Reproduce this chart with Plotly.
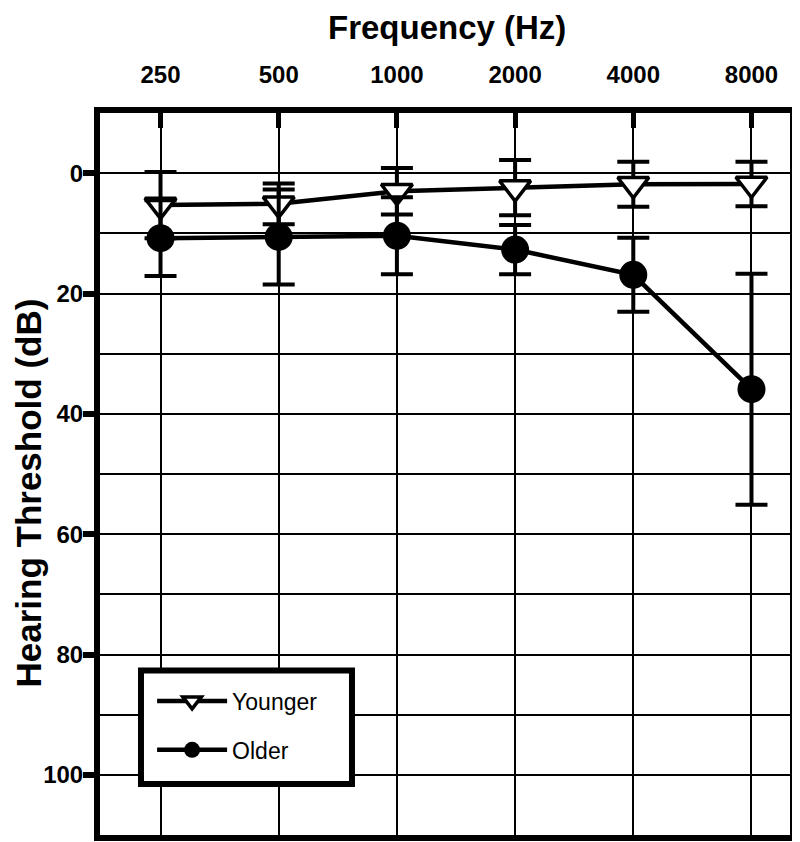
import plotly.graph_objects as go

freqs = [250, 500, 1000, 2000, 4000, 8000]
freq_labels = ["250", "500", "1000", "2000", "4000", "8000"]
younger_mean = [5.3, 5.1, 3.0, 2.4, 1.85, 1.8]
younger_sd = [5.5, 3.4, 3.85, 4.6, 3.75, 3.7]
older_mean = [10.8, 10.6, 10.4, 12.7, 16.9, 35.9]
older_sd = [6.3, 7.9, 6.4, 4.1, 6.15, 19.2]
y_tick_vals = [0, 20, 40, 60, 80, 100]
y_tick_text = ["0", "20", "40", "60", "80", "100"]

FONT = "Liberation Sans, Arial, Helvetica, sans-serif"

fig = go.Figure()

fig.add_trace(go.Scatter(
    x=freqs, y=younger_mean, name="Younger", mode="lines+markers",
    line=dict(color="black", width=4.5),
    marker=dict(symbol="triangle-down", size=27, color="white",
                line=dict(color="black", width=3.5)),
    error_y=dict(type="data", array=younger_sd, visible=True,
                 color="black", thickness=4, width=16),
    legendgroup="y",
))
fig.add_trace(go.Scatter(
    x=freqs, y=older_mean, name="Older", mode="lines+markers",
    line=dict(color="black", width=4.5),
    marker=dict(symbol="circle", size=28, color="black",
                line=dict(color="black", width=0)),
    error_y=dict(type="data", array=older_sd, visible=True,
                 color="black", thickness=4, width=16),
    legendgroup="o",
))

fig.update_layout(
    width=800, height=842,
    margin=dict(l=92, r=18, t=105, b=15, autoexpand=False),
    paper_bgcolor="white", plot_bgcolor="white",
    font=dict(family=FONT, color="black"),
    showlegend=True,
    legend=dict(
        x=0.0755, y=0.088, xanchor="left", yanchor="bottom",
        bgcolor="rgba(0,0,0,0)", borderwidth=0,
        font=dict(family=FONT, size=23, color="black"),
        itemwidth=70, tracegroupgap=16, traceorder="grouped",
    ),
    shapes=[dict(
        type="rect", xref="paper", yref="paper",
        x0=0.0594, x1=0.3652, y0=0.0706, y1=0.2278,
        line=dict(color="black", width=6), fillcolor="white", layer="above",
    )],
    annotations=[
        dict(
            text="Frequency (Hz)",
            xref="paper", yref="paper", x=0.503, y=1.119,
            xanchor="center", yanchor="middle", showarrow=False, borderpad=0,
            font=dict(family=FONT, size=33, color="black", weight="bold"),
        ),
        dict(
            text="Hearing Threshold (dB)", textangle=-90,
            xref="paper", yref="paper", x=-0.1333, y=0.4737,
            xanchor="left", yanchor="middle", showarrow=False, borderpad=0,
            font=dict(family=FONT, size=35, color="black", weight="bold"),
        ),
    ],
)

fig.update_xaxes(
    type="log", side="top", automargin=False,
    range=[2.2438, 4.0012],
    tickvals=freqs, ticktext=freq_labels,
    ticks="inside", ticklen=15, tickwidth=5, tickcolor="black",
    tickfont=dict(family=FONT, size=24, color="black", weight="bold"),
    ticklabelstandoff=14,
    showgrid=True, gridcolor="black", gridwidth=2,
    showline=True, linecolor="black", linewidth=6, mirror=True,
    zeroline=False,
)

fig.update_yaxes(
    range=[110, -10], automargin=False,
    tickvals=y_tick_vals, ticktext=y_tick_text,
    ticks="outside", ticklen=11, tickwidth=6, tickcolor="black",
    tickfont=dict(family=FONT, size=24, color="black", weight="bold"),
    ticklabelstandoff=-5,
    showgrid=True, gridcolor="black", gridwidth=2,
    minor=dict(dtick=10, tick0=0, showgrid=True, gridcolor="black", gridwidth=2, ticks=""),
    showline=True, linecolor="black", linewidth=6, mirror=True,
    zeroline=False,
)

fig.write_html("out.html")
